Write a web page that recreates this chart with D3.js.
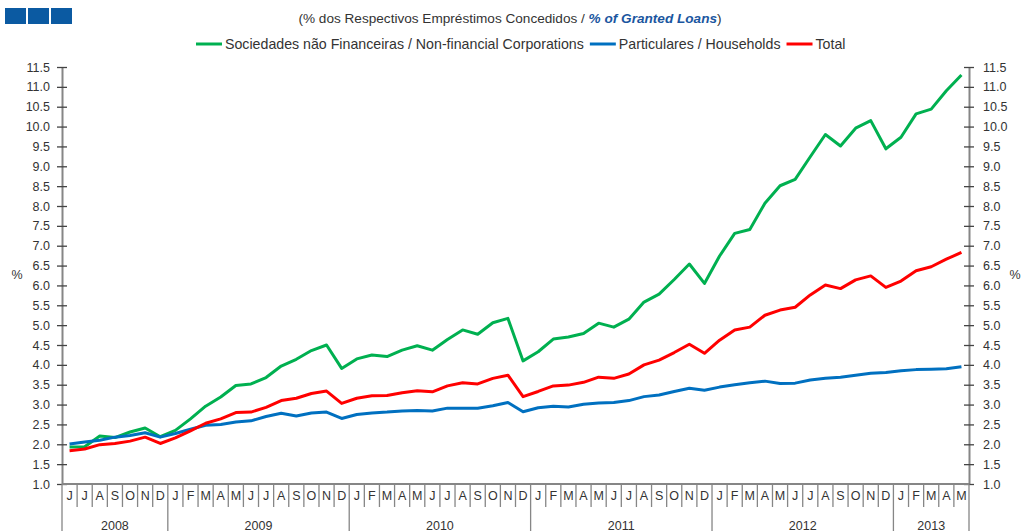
<!DOCTYPE html>
<html>
<head>
<meta charset="utf-8">
<script src="https://cdn.jsdelivr.net/npm/d3@7"></script>
<style>
  html, body { margin: 0; padding: 0; background: #fff; }
  svg { display: block; font-family: "Liberation Sans", Arial, sans-serif; }
</style>
</head>
<body>
<div id="chart"></div>
<script>
// monthly periods, Jun 2008 .. May 2013
const periods = [
  '2008-06','2008-07','2008-08','2008-09','2008-10','2008-11','2008-12',
  '2009-01','2009-02','2009-03','2009-04','2009-05','2009-06','2009-07','2009-08','2009-09','2009-10','2009-11','2009-12',
  '2010-01','2010-02','2010-03','2010-04','2010-05','2010-06','2010-07','2010-08','2010-09','2010-10','2010-11','2010-12',
  '2011-01','2011-02','2011-03','2011-04','2011-05','2011-06','2011-07','2011-08','2011-09','2011-10','2011-11','2011-12',
  '2012-01','2012-02','2012-03','2012-04','2012-05','2012-06','2012-07','2012-08','2012-09','2012-10','2012-11','2012-12',
  '2013-01','2013-02','2013-03','2013-04','2013-05'
];
const monthInitials = ['J','F','M','A','M','J','J','A','S','O','N','D'];
const years = ['2008','2009','2010','2011','2012','2013'];

const nonFinancial = [
  1.93, 1.94, 2.21, 2.17, 2.31, 2.41, 2.19,
  2.35, 2.64, 2.96, 3.19, 3.48, 3.52, 3.68, 3.97, 4.14, 4.36, 4.50, 3.91,
  4.15, 4.25, 4.21, 4.37, 4.48, 4.37, 4.64, 4.88, 4.77, 5.06, 5.17, 4.10,
  4.33, 4.65, 4.70, 4.79, 5.05, 4.95, 5.15, 5.58, 5.78, 6.15, 6.54, 6.05,
  6.74, 7.31, 7.41, 8.07, 8.51, 8.67, 9.24, 9.80, 9.51, 9.96, 10.15, 9.44,
  9.73, 10.32, 10.44, 10.90, 11.30
];
const households = [
  2.01, 2.06, 2.10, 2.18, 2.22, 2.29, 2.18,
  2.27, 2.38, 2.48, 2.50, 2.56, 2.59, 2.70, 2.78, 2.71, 2.79, 2.81, 2.65,
  2.75, 2.79, 2.81, 2.84, 2.85, 2.84, 2.91, 2.91, 2.91, 2.97, 3.05, 2.82,
  2.92, 2.96, 2.94, 3.01, 3.04, 3.05, 3.10, 3.20, 3.24, 3.33, 3.41, 3.36,
  3.44, 3.50, 3.55, 3.59, 3.53, 3.54, 3.62, 3.66, 3.69, 3.74, 3.79, 3.81,
  3.85, 3.88, 3.89, 3.90, 3.95
];
const total = [
  1.84, 1.88, 1.99, 2.02, 2.08, 2.18, 2.02,
  2.16, 2.34, 2.53, 2.64, 2.80, 2.81, 2.93, 3.10, 3.16, 3.28, 3.34, 3.03,
  3.16, 3.22, 3.23, 3.30, 3.35, 3.32, 3.47, 3.55, 3.52, 3.66, 3.74, 3.20,
  3.33, 3.47, 3.49, 3.56, 3.69, 3.66, 3.77, 4.00, 4.12, 4.31, 4.52, 4.29,
  4.62, 4.88, 4.95, 5.25, 5.38, 5.45, 5.76, 6.01, 5.92, 6.14, 6.24, 5.95,
  6.11, 6.37, 6.47, 6.66, 6.83
];
const yTicks = [1.0, 1.5, 2.0, 2.5, 3.0, 3.5, 4.0, 4.5, 5.0, 5.5, 6.0, 6.5, 7.0, 7.5, 8.0, 8.5, 9.0, 9.5, 10.0, 10.5, 11.0, 11.5];

const series = [
  { name: 'Sociedades não Financeiras / Non-financial Corporations', values: nonFinancial, color: '#00B050' },
  { name: 'Particulares / Households', values: households, color: '#0070C0' },
  { name: 'Total', values: total, color: '#FF0000' }
];

const width = 1021, height = 531;
const plot = { left: 62, right: 969, top: 67, bottom: 484 };
const textColor = '#333';
const axisColor = '#868686';

const svg = d3.select('#chart').append('svg')
  .attr('width', width)
  .attr('height', height);

// header: logo squares + subtitle
svg.append('g').selectAll('rect').data([0, 1, 2]).enter().append('rect')
  .attr('x', d => 5 + d * 23)
  .attr('y', 8)
  .attr('width', 21)
  .attr('height', 16)
  .attr('fill', '#0B5AA2');

const sub = svg.append('text')
  .attr('x', 510)
  .attr('y', 23)
  .attr('text-anchor', 'middle')
  .attr('font-size', 13.6)
  .attr('fill', textColor);
sub.append('tspan').text('(% dos Respectivos Empréstimos Concedidos / ');
sub.append('tspan').attr('font-weight', 'bold').attr('font-style', 'italic')
  .attr('fill', '#1A56A0').text('% of Granted Loans');
sub.append('tspan').text(')');

// scales
const x = d3.scaleBand().domain(periods).range([plot.left, plot.right]).padding(0);
const y = d3.scaleLinear().domain([1, 11.5]).range([plot.bottom, plot.top]);
const cx = d => x(d) + x.bandwidth() / 2;

// y axes (left and right), ticks cross the axis line
function styleAxis(g, sign) {
  g.select('.domain').attr('stroke', axisColor).attr('stroke-width', 2);
  g.selectAll('.tick line').attr('x1', 5 * sign).attr('x2', -5 * sign)
    .attr('stroke', '#444').attr('stroke-width', 1.3);
  g.selectAll('.tick text').attr('fill', textColor).attr('font-size', 12.5)
    .attr('font-family', '"Liberation Sans", Arial, sans-serif');
}

svg.append('g')
  .attr('transform', `translate(${plot.left},0)`)
  .call(d3.axisLeft(y).tickValues(yTicks).tickFormat(d3.format('.1f')).tickSize(5).tickSizeOuter(0).tickPadding(7))
  .call(g => styleAxis(g, 1));

svg.append('g')
  .attr('transform', `translate(${plot.right},0)`)
  .call(d3.axisRight(y).tickValues(yTicks).tickFormat(d3.format('.1f')).tickSize(5).tickSizeOuter(0).tickPadding(9))
  .call(g => styleAxis(g, -1));

svg.append('text').attr('x', 17).attr('y', 279).attr('text-anchor', 'middle')
  .attr('font-size', 12.5).attr('fill', textColor).text('%');
svg.append('text').attr('x', 1015).attr('y', 279).attr('text-anchor', 'middle')
  .attr('font-size', 12.5).attr('fill', textColor).text('%');

// x axis: baseline, month separators, month initials, year labels
const xg = svg.append('g');
xg.append('line')
  .attr('x1', plot.left).attr('x2', plot.right)
  .attr('y1', plot.bottom).attr('y2', plot.bottom)
  .attr('stroke', axisColor).attr('stroke-width', 2);

const edges = periods.concat(['end']);
xg.selectAll('line.sep').data(edges).enter().append('line')
  .attr('class', 'sep')
  .attr('x1', d => d === 'end' ? plot.right : x(d))
  .attr('x2', d => d === 'end' ? plot.right : x(d))
  .attr('y1', plot.bottom)
  .attr('y2', (d, i) => (i === 0 || d === 'end' || d.slice(5) === '01') ? height : 507)
  .attr('stroke', axisColor).attr('stroke-width', 1.3);

xg.selectAll('text.month').data(periods).enter().append('text')
  .attr('class', 'month')
  .attr('x', cx)
  .attr('y', 500)
  .attr('text-anchor', 'middle')
  .attr('font-size', 12.5)
  .attr('fill', textColor)
  .text(d => monthInitials[+d.slice(5) - 1]);

xg.selectAll('text.year').data(years).enter().append('text')
  .attr('class', 'year')
  .attr('x', yr => {
    const ps = periods.filter(p => p.slice(0, 4) === yr);
    return (x(ps[0]) + x(ps[ps.length - 1]) + x.bandwidth()) / 2;
  })
  .attr('y', 529.5)
  .attr('text-anchor', 'middle')
  .attr('font-size', 12.5)
  .attr('fill', textColor)
  .text(d => d);

// lines
const line = d3.line()
  .x((d, i) => cx(periods[i]))
  .y(d => y(d));

svg.append('g').selectAll('path').data(series).enter().append('path')
  .attr('d', d => line(d.values))
  .attr('fill', 'none')
  .attr('stroke', d => d.color)
  .attr('stroke-width', 3)
  .attr('stroke-linejoin', 'round');

// legend
const legend = svg.append('g').attr('font-size', 14.2).attr('fill', textColor);
let lx = 196;
series.forEach(s => {
  legend.append('line')
    .attr('x1', lx).attr('x2', lx + 26)
    .attr('y1', 44).attr('y2', 44)
    .attr('stroke', s.color).attr('stroke-width', 3);
  const t = legend.append('text')
    .attr('x', lx + 29).attr('y', 49)
    .text(s.name);
  lx += 29 + t.node().getComputedTextLength() + 6;
});
</script>
</body>
</html>
